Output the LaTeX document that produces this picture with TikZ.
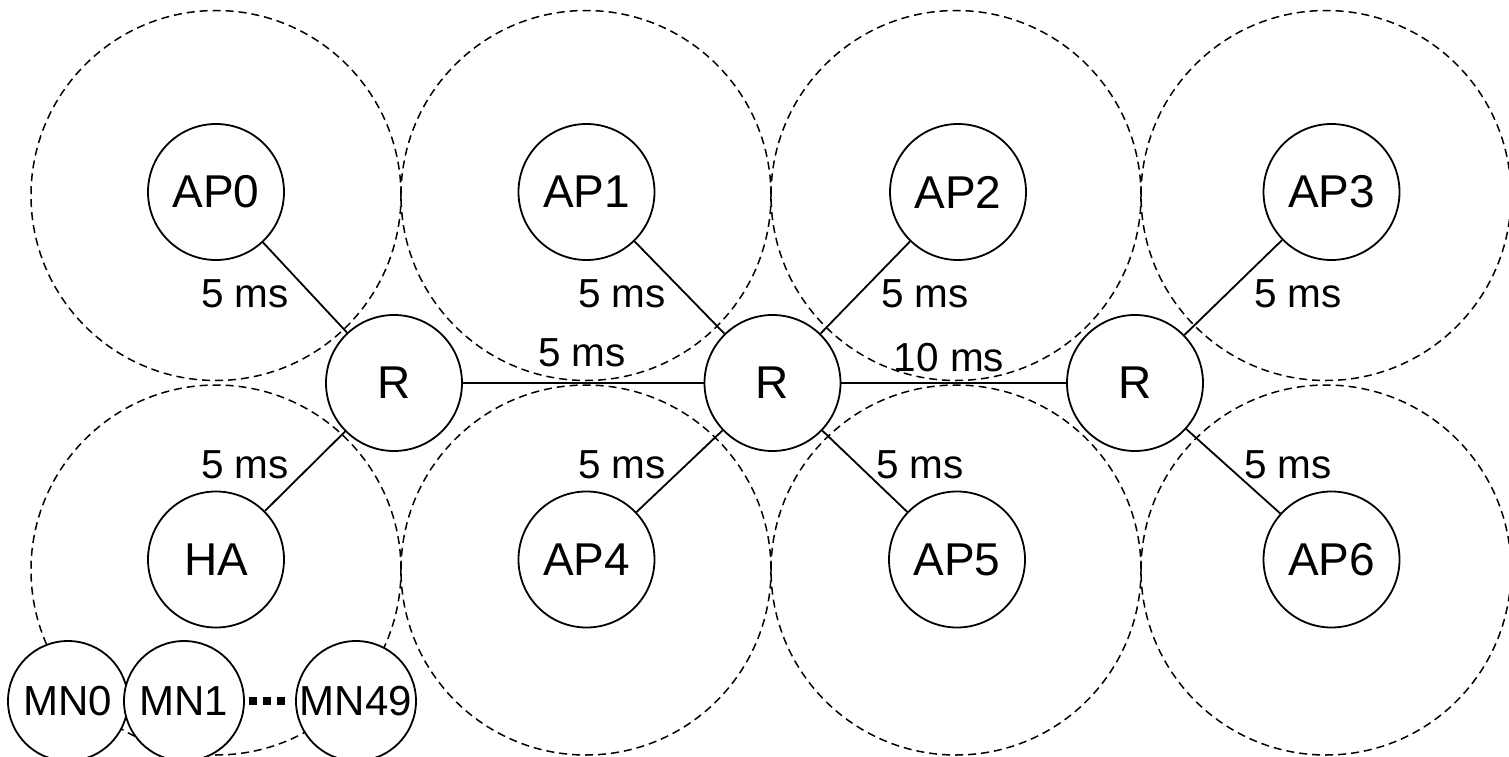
\documentclass[tikz,border=0pt]{standalone}
\usepackage{fontspec}
\setmainfont{Liberation Sans}
\begin{document}
\begin{tikzpicture}[x=1pt,y=-1pt,
  dev/.style={circle,draw,fill=white,line width=1.8pt,minimum size=136pt,inner sep=0pt,
    font=\fontsize{46}{50}\selectfont},
  mn/.style={dev,minimum size=120pt,font=\fontsize{42}{46}\selectfont},
  cell/.style={draw,line width=1.5pt,dash pattern=on 8pt off 5pt},
  link/.style={line width=1.8pt},
  lbl/.style={anchor=base,inner sep=0pt,font=\fontsize{40.5}{44}\selectfont}]
\useasboundingbox (0,0) rectangle (1509,757);
\clip (0,0) rectangle (1509,757);

% radio coverage of each access point
\foreach \cx in {216,586,956,1326}{
  \draw[cell] (\cx,195.5) circle[radius=185pt];
  \draw[cell] (\cx,570) circle[radius=185pt];
}

% routers
\node[dev] (r1) at (394,383) {R};
\node[dev] (r2) at (772.5,383) {R};
\node[dev] (r3) at (1135,383) {R};

% access points and home agent
\node[dev] (ap0) at (216,192) {AP0};
\node[dev] (ap1) at (586.5,192) {AP1};
\node[dev] (ap2) at (958,192) {AP2};
\node[dev] (ap3) at (1331.5,192) {AP3};
\node[dev] (ha)  at (216,559.5) {HA};
\node[dev] (ap4) at (586.5,559.5) {AP4};
\node[dev] (ap5) at (957,559.5) {AP5};
\node[dev] (ap6) at (1331.5,559.5) {AP6};

% links
\draw[link] (ap0) -- (r1);
\draw[link] (ha)  -- (r1);
\draw[link] (r1)  -- (r2);
\draw[link] (ap1) -- (r2);
\draw[link] (ap2) -- (r2);
\draw[link] (ap4) -- (r2);
\draw[link] (ap5) -- (r2);
\draw[link] (r2)  -- (r3);
\draw[link] (ap3) -- (r3);
\draw[link] (ap6) -- (r3);

% link delays
\node[lbl] (d0) at (245,307) {5 ms};
\node[lbl] (d1) at (622,307) {5 ms};
\node[lbl] (d2) at (925,307) {5 ms};
\node[lbl] (d3) at (1298,307) {5 ms};
\node[lbl] (d4) at (582,366.5) {5 ms};
\node[lbl] (d5) at (949,371) {10 ms};
\node[lbl] (d6) at (245,478) {5 ms};
\node[lbl] (d7) at (622,478) {5 ms};
\node[lbl] (d8) at (920,478) {5 ms};
\node[lbl] (d9) at (1288,478) {5 ms};

% mobile nodes
\node[mn] (mn0)  at (68,701) {MN0};
\node[mn] (mn1)  at (184,701) {MN1};
\node[mn] (mn49) at (356,701) {MN49};
\foreach \dx in {253,267,281}
  \fill (\dx-4,697) rectangle (\dx+4,705);
\end{tikzpicture}
\end{document}
